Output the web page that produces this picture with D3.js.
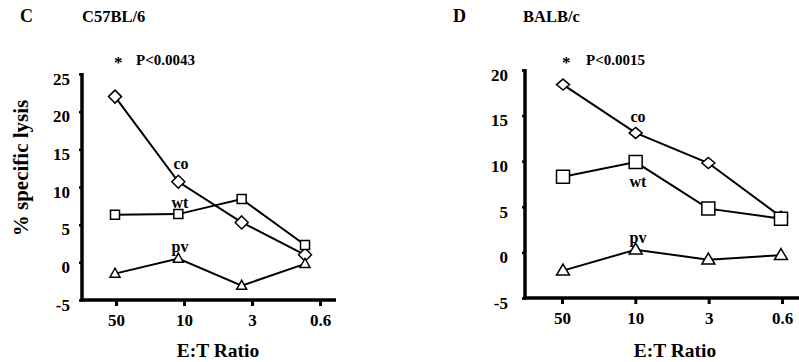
<!DOCTYPE html>
<html>
<head>
<meta charset="utf-8">
<script src="https://cdn.jsdelivr.net/npm/d3@7"></script>
<style>
  body { margin: 0; background: #fff; }
  svg { display: block; }
  svg text { font-family: "Liberation Serif", "DejaVu Serif", "Tinos", "Times New Roman", Times, serif !important; font-weight: bold; fill: #000; }
</style>
</head>
<body>
<svg id="chart" width="799" height="362"></svg>
<script>
// ---- data ----
const ratios = ["50", "10", "3", "0.6"];
const yTicksC = [-5, 0, 5, 10, 15, 20, 25];
const yTicksD = [-5, 0, 5, 10, 15, 20];

const c57_co = [22.0, 10.7, 5.3, 1.0];
const c57_wt = [6.3, 6.4, 8.4, 2.3];
const c57_pv = [-1.5, 0.5, -3.1, -0.2];

const balb_co = [18.4, 13.1, 9.8, 3.9];
const balb_wt = [8.3, 9.9, 4.8, 3.7];
const balb_pv = [-2.0, 0.3, -0.8, -0.3];

const svg = d3.select("#chart");

function panel(cfg) {
  const g = svg.append("g");
  const y = d3.scaleLinear().domain(cfg.yDomain).range([cfg.yBottom, cfg.yTop]);
  const xAxisScale = d3.scalePoint().domain(ratios).range(cfg.xTickRange);
  const xMark = d3.scalePoint().domain(ratios).range(cfg.xMarkRange);

  // y axis
  const yAx = g.append("g").attr("transform", `translate(${cfg.axisX},0)`)
    .call(d3.axisLeft(y).tickValues(cfg.yTicks).tickSize(3).tickPadding(cfg.yPad).tickFormat(d => String(d)));
  yAx.attr("font-family", null);
  yAx.select(".domain").remove();
  yAx.selectAll(".tick line").attr("stroke", "#000").attr("stroke-width", 2.5);
  yAx.selectAll(".tick text").attr("font-size", 17).attr("dy", "0.6em");
  g.append("line").attr("x1", cfg.axisX).attr("x2", cfg.axisX)
    .attr("y1", y(cfg.yDomain[1]) - 1).attr("y2", y(cfg.yDomain[0]) + 1.5)
    .attr("stroke", "#000").attr("stroke-width", 3.5);

  // x axis
  const xAx = g.append("g").attr("transform", `translate(0,${y(cfg.yDomain[0])})`)
    .call(d3.axisBottom(xAxisScale).tickSize(6).tickPadding(8));
  xAx.attr("font-family", null);
  xAx.select(".domain").remove();
  xAx.selectAll(".tick line").attr("stroke", "#000").attr("stroke-width", 3);
  xAx.selectAll(".tick text").attr("font-size", 17);
  g.append("line").attr("x1", cfg.axisX - 1.5).attr("x2", cfg.xEnd)
    .attr("y1", y(cfg.yDomain[0])).attr("y2", y(cfg.yDomain[0]))
    .attr("stroke", "#000").attr("stroke-width", 3.5);

  const line = d3.line().x((d, i) => xMark(ratios[i])).y(d => y(d));

  const series = [
    { vals: cfg.co, shape: "diamond" },
    { vals: cfg.wt, shape: "square" },
    { vals: cfg.pv, shape: "triangle" }
  ];
  series.forEach(s => {
    g.append("path").datum(s.vals).attr("d", line)
      .attr("fill", "none").attr("stroke", "#000").attr("stroke-width", 2);
  });
  series.forEach(s => {
    const sz = cfg.sizes[s.shape];
    g.selectAll(null).data(s.vals).enter().append("path")
      .attr("transform", (d, i) => `translate(${xMark(ratios[i])},${y(d)})`)
      .attr("d", () => {
        if (s.shape === "diamond") return `M0,${-sz.h}L${sz.w},0L0,${sz.h}L${-sz.w},0Z`;
        if (s.shape === "square") return `M${-sz.w},${-sz.w}H${sz.w}V${sz.w}H${-sz.w}Z`;
        return `M0,${-sz.h * 0.6}L${sz.w},${sz.h * 0.4}L${-sz.w},${sz.h * 0.4}Z`;
      })
      .attr("fill", "#fff").attr("stroke", "#000").attr("stroke-width", 1.5);
  });

  // series labels
  cfg.labels.forEach(l => {
    g.append("text").attr("x", l.x).attr("y", l.y).attr("text-anchor", "middle")
      .attr("dominant-baseline", "central").attr("font-size", 16).text(l.t);
  });

  // titles
  g.append("text").attr("x", cfg.letter.x).attr("y", 22).attr("font-size", 18).text(cfg.letter.t);
  g.append("text").attr("x", cfg.strain.x).attr("y", 22).attr("font-size", 16.5).text(cfg.strain.t);
  g.append("text").attr("x", cfg.star.x).attr("y", 68).attr("font-size", 17).text("*");
  g.append("text").attr("x", cfg.pval.x).attr("y", 65).attr("font-size", 15).text(cfg.pval.t);
  g.append("text").attr("x", cfg.xTitleX).attr("y", 357).attr("text-anchor", "middle")
    .attr("font-size", 19.5).text("E:T Ratio");
}

panel({
  yDomain: [-5, 25], yBottom: 300, yTop: 74, yTicks: yTicksC, axisX: 82, yPad: 9,
  xTickRange: [116, 320], xMarkRange: [115, 305], xEnd: 336,
  co: c57_co, wt: c57_wt, pv: c57_pv,
  sizes: { diamond: { w: 6.5, h: 6.5 }, square: { w: 4.5 }, triangle: { w: 5, h: 9 } },
  labels: [{ t: "co", x: 181, y: 163 }, { t: "wt", x: 180, y: 202 }, { t: "pv", x: 180, y: 246 }],
  letter: { t: "C", x: 20 }, strain: { t: "C57BL/6", x: 82 },
  star: { x: 114 }, pval: { t: "P<0.0043", x: 136 }, xTitleX: 218
});

panel({
  yDomain: [-5, 20], yBottom: 298, yTop: 70, yTicks: yTicksD, axisX: 525, yPad: 14,
  xTickRange: [562, 782], xMarkRange: [563, 781], xEnd: 799,
  co: balb_co, wt: balb_wt, pv: balb_pv,
  sizes: { diamond: { w: 6.5, h: 5.5 }, square: { w: 6.5 }, triangle: { w: 6.5, h: 11 } },
  labels: [{ t: "co", x: 638, y: 116 }, { t: "wt", x: 638, y: 181 }, { t: "pv", x: 638, y: 237 }],
  letter: { t: "D", x: 453 }, strain: { t: "BALB/c", x: 523 },
  star: { x: 562 }, pval: { t: "P<0.0015", x: 586 }, xTitleX: 675
});

// y axis title (left panel only)
svg.append("text").attr("transform", "translate(28,168) rotate(-90)")
  .attr("text-anchor", "middle").attr("font-size", 21).text("% specific lysis");
</script>
</body>
</html>
